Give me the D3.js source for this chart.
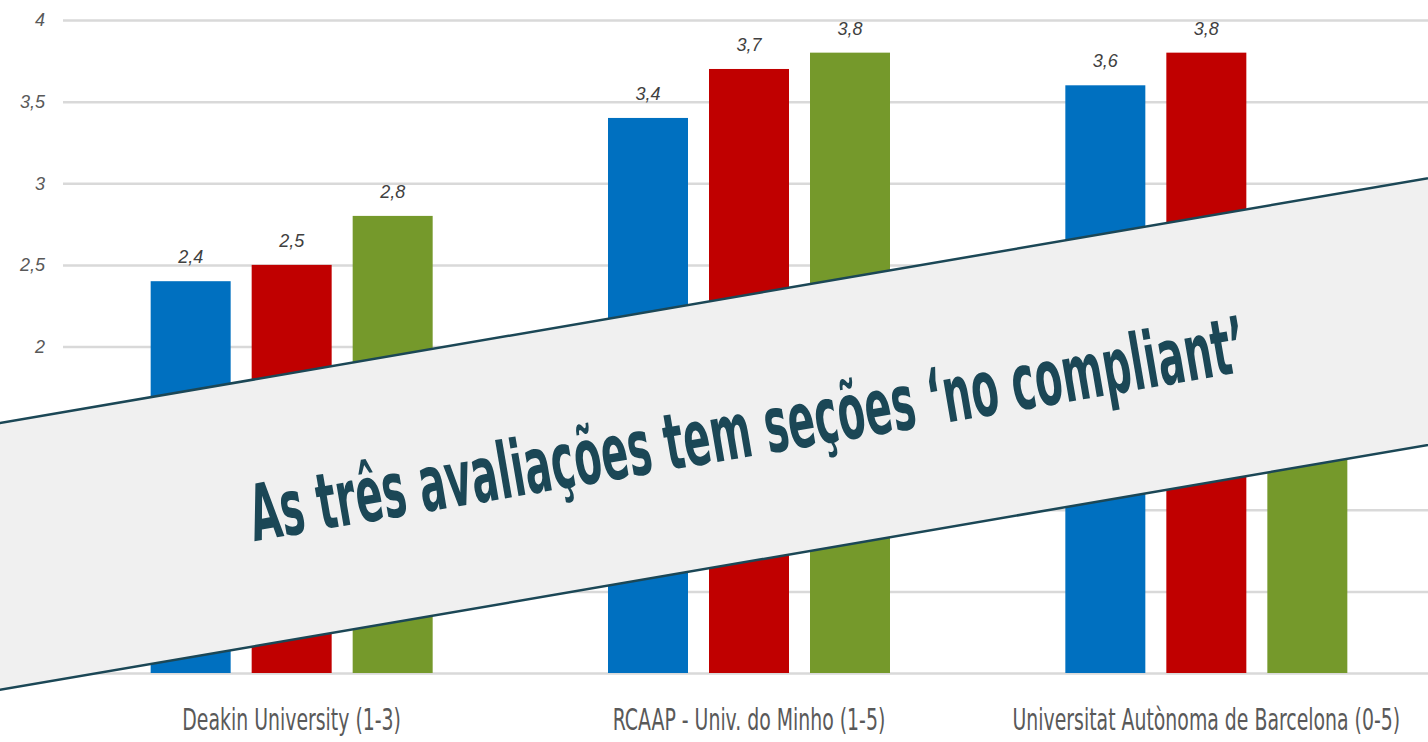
<!DOCTYPE html>
<html lang="pt">
<head>
  <meta charset="UTF-8">
  <script src="https://cdn.jsdelivr.net/npm/d3@7"></script>
  <style>
    body { margin: 0; background: #fff; }
    svg { display: block; }
  </style>
  <title>avaliações</title>
</head>
<body>
  <svg class="svg" width="1428" height="742"></svg>
  <script>
    const categories = ["Deakin University (1-3)", "RCAAP - Univ. do Minho (1-5)", "Universitat Autònoma de Barcelona (0-5)"]
    const seriesNames = ["s1", "s2", "s3"]
    const s1 = [2.4, 3.4, 3.6]
    const s2 = [2.5, 3.7, 3.8]
    const s3 = [2.8, 3.8, 2.4]
    const yTicks = [0, 0.5, 1, 1.5, 2, 2.5, 3, 3.5, 4]
    const bannerText = "As três avaliações tem seções ‘no compliant’"

    const colors = ["#0070c0", "#c00000", "#75992b"]
    const values = [s1, s2, s3]

    let svg = d3.select(".svg")
    let width = +svg.attr("width")
    let margin = {top: 20, right: -7, bottom: 69, left: 63}
    let height = +svg.attr("height")

    let x0 = d3.scaleBand()
      .domain(categories)
      .range([margin.left, width - margin.right])

    let x1 = d3.scaleBand()
      .domain(seriesNames)
      .range([(x0.bandwidth() - 282) / 2, (x0.bandwidth() + 282) / 2])
      .paddingInner(0.208)

    let y = d3.scaleLinear()
      .domain([0, 4])
      .range([height - margin.bottom, margin.top])

    let fmt = v => String(v).replace(".", ",")

    // grid + labels do eixo y
    let yAxis = g => g
      .attr("transform", `translate(${margin.left},0)`)
      .call(d3.axisLeft(y).tickValues(yTicks).tickFormat(d => d > 1.9 ? fmt(d) : "")
        .tickSize(-(width - margin.left)).tickPadding(18))
      .call(g => g.select(".domain").remove())
      .call(g => g.selectAll(".tick line").attr("stroke", "#d9d9d9").attr("stroke-width", 2.5))
      .call(g => g.selectAll(".tick text")
        .attr("fill", "#595959")
        .attr("font-family", "Liberation Sans, sans-serif")
        .attr("font-style", "italic")
        .attr("font-size", 18))

    svg.append("g").call(yAxis)

    // barras
    let groups = svg.append("g")
      .selectAll("g")
      .data(categories)
      .join("g")
      .attr("transform", d => `translate(${x0(d)},0)`)

    groups.selectAll("rect")
      .data((c, i) => seriesNames.map((s, j) => ({s, j, v: values[j][i]})))
      .join("rect")
      .attr("x", d => x1(d.s))
      .attr("y", d => y(d.v))
      .attr("width", x1.bandwidth())
      .attr("height", d => y(0) - y(d.v))
      .attr("fill", d => colors[d.j])

    groups.selectAll("text")
      .data((c, i) => seriesNames.map((s, j) => ({s, j, v: values[j][i]})))
      .join("text")
      .attr("x", d => x1(d.s) + x1.bandwidth() / 2)
      .attr("y", d => y(d.v) - 18)
      .attr("text-anchor", "middle")
      .attr("font-family", "Liberation Sans, sans-serif")
      .attr("font-style", "italic")
      .attr("font-size", 18)
      .attr("fill", "#404040")
      .text(d => fmt(d.v))

    // categorias
    svg.append("g")
      .selectAll("text")
      .data(categories)
      .join("text")
      .attr("transform", d => `translate(${x0(d) + x0.bandwidth() / 2},${y(0) + 57}) scale(0.7,1)`)
      .attr("text-anchor", "middle")
      .attr("font-family", "Liberation Sans Narrow, DejaVu Sans Condensed, sans-serif")
      .attr("font-size", 30)
      .attr("fill", "#595959")
      .text(d => d)

    // faixa diagonal
    let angle = -9.73
    let band = svg.append("g")
      .attr("transform", `translate(714,434) rotate(${angle})`)
    band.append("rect")
      .attr("x", -900).attr("y", -131.5)
      .attr("width", 1800).attr("height", 263)
      .attr("fill", "#f0f0f0")
      .attr("stroke", "#1b4756")
      .attr("stroke-width", 2.5)

    svg.append("text")
      .attr("transform", `translate(752,456) rotate(${angle})`)
      .attr("text-anchor", "middle")
      .attr("font-family", "Liberation Sans Narrow, DejaVu Sans Condensed, sans-serif")
      .attr("font-weight", "bold")
      .attr("font-size", 78)
      .attr("textLength", 1010)
      .attr("lengthAdjust", "spacingAndGlyphs")
      .attr("fill", "#1b4756")
      .text(bannerText)
  </script>
</body>
</html>
